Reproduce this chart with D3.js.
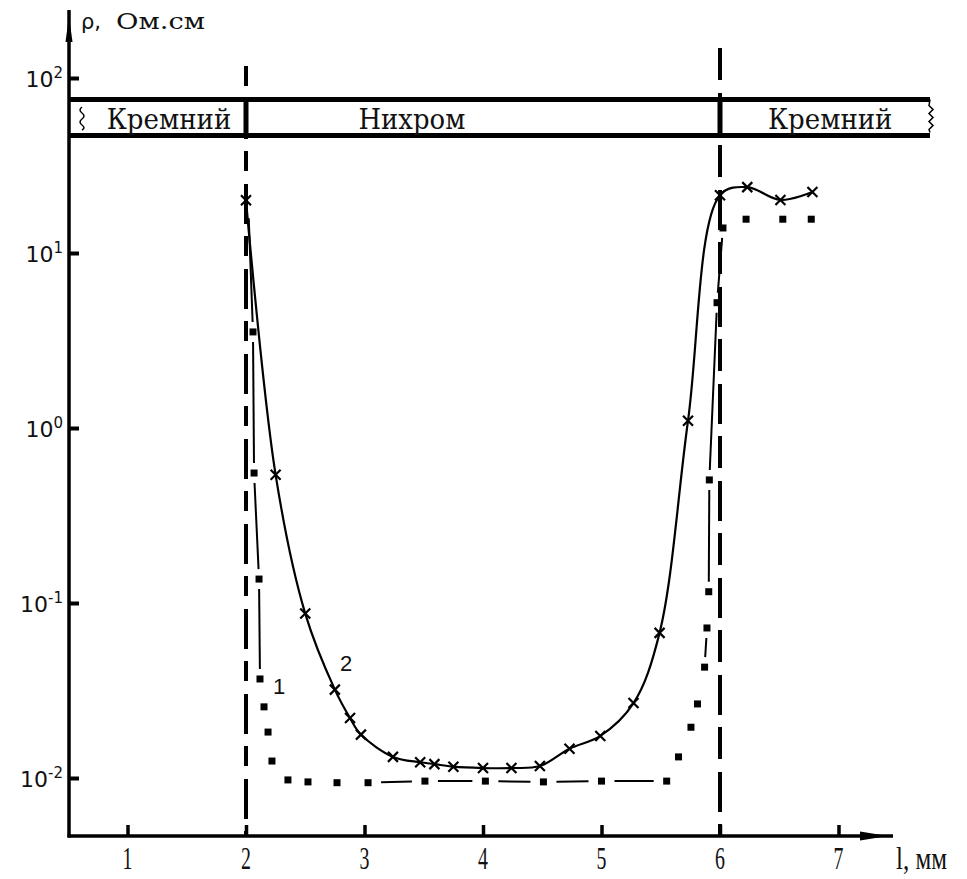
<!DOCTYPE html>
<head>
  <meta http-equiv="Content-Type" content="text/html; charset=utf-8">
  <style>
    body { margin: 0; background: #fff; }
    text { fill: #111; }
  </style>
</head>
<body></body>
<script src="https://cdn.jsdelivr.net/npm/d3@7"></script>
<script>

var width = 967,
    height = 879;

// Inputs
var xTicks = [1, 2, 3, 4, 5, 6, 7];
var yTicks = [0.01, 0.1, 1, 10, 100];
var yTickExp = ["-2", "-1", "0", "1", "2"];
var bandNames = ["Кремний", "Нихром", "Кремний"];
var bandCenters = [1.35, 3.4, 6.93];
var boundaries = [2, 6];

// curve 1 (squares, dash-dot)
var l1   = [2.02, 2.059, 2.068, 2.110, 2.118, 2.152, 2.186, 2.219, 2.354, 2.523, 2.768, 3.03,
            3.51, 4.02, 4.51, 5.0, 5.55, 5.65, 5.755, 5.81, 5.87, 5.89, 5.905, 5.91, 5.975, 6.025,
            6.22, 6.53, 6.77];
var rho1 = [18, 3.54, 0.553, 0.137, 0.0368, 0.0255, 0.0183, 0.0125, 0.00975, 0.0095, 0.0094, 0.0094,
            0.0096, 0.0096, 0.0095, 0.0096, 0.0096, 0.0132, 0.0195, 0.0265, 0.043, 0.072, 0.116, 0.505, 5.2, 13.9,
            15.6, 15.6, 15.6];

// curve 2 (crosses, solid)
var l2   = [2.0, 2.25, 2.5, 2.75, 2.878, 2.97, 3.24, 3.47, 3.59, 3.75, 4.0, 4.24, 4.48, 4.73, 4.99,
            5.27, 5.49, 5.73, 6.0, 6.23, 6.51, 6.78];
var rho2 = [20, 0.54, 0.087, 0.032, 0.022, 0.0177, 0.0132, 0.0123, 0.0120, 0.0116, 0.0114, 0.0114,
            0.0117, 0.0147, 0.0174, 0.0268, 0.0675, 1.10, 21.4, 23.8, 20.1, 22.3];

var xs = d3.scaleLinear()
    .domain([2, 6])
    .range([246, 720]);
var ys = d3.scaleLog()
    .domain([0.01, 100])
    .range([778, 78]);

var axisX = 69, axisY = 836;

var svg = d3.select("body").append("svg")
    .attr("width", width)
    .attr("height", height)

// axes lines + arrows
svg.append("line")
    .attr("x1", axisX).attr("y1", axisY + 1.5)
    .attr("x2", axisX).attr("y2", 10)
    .attr("stroke", "#000").attr("stroke-width", 3.5);
svg.append("path")
    .attr("d", "M" + axisX + ",16 L" + (axisX + 3.5) + ",42 L" + (axisX - 3.5) + ",42 Z")
    .attr("fill", "#000");
svg.append("line")
    .attr("x1", axisX - 1.5).attr("y1", axisY)
    .attr("x2", 893).attr("y2", axisY)
    .attr("stroke", "#000").attr("stroke-width", 3.5);
svg.append("path")
    .attr("d", "M888," + axisY + " L860," + (axisY - 4.5) + " L860," + (axisY + 4.5) + " Z")
    .attr("fill", "#000");

// x ticks (inside)
var xAxis = svg.append("g")
    .attr("transform", "translate(0," + axisY + ")")
    .call(d3.axisBottom(xs).tickValues(xTicks).tickSize(-11).tickFormat(""));
xAxis.select(".domain").remove();
xAxis.selectAll(".tick line").attr("stroke", "#000").attr("stroke-width", 3.5);

svg.selectAll(".xlab")
    .data(xTicks)
    .enter()
    .append("text")
    .attr("class", "xlab")
    .attr("transform", function(d){ return "translate(" + xs(d) + ",869) scale(0.62,1)"; })
    .attr("text-anchor", "middle")
    .attr("font-family", "Liberation Serif")
    .attr("font-size", 32)
    .text(function(d){ return d; });

svg.append("text")
    .attr("transform", "translate(896,869) scale(0.78,1)")
    .attr("font-family", "Liberation Serif")
    .attr("font-size", 32)
    .text("l, мм");

// y ticks (inside)
var yAxis = svg.append("g")
    .attr("transform", "translate(" + axisX + ",0)")
    .call(d3.axisRight(ys).tickValues(yTicks).tickSize(10).tickFormat(""));
yAxis.select(".domain").remove();
yAxis.selectAll(".tick line").attr("stroke", "#000").attr("stroke-width", 4);

var ylab = svg.selectAll(".ylab")
    .data(yTicks)
    .enter()
    .append("text")
    .attr("class", "ylab")
    .attr("x", 63)
    .attr("y", function(d){ return ys(d) + 9; })
    .attr("text-anchor", "end")
    .attr("font-family", "DejaVu Sans")
    .attr("font-size", 22)
    .attr("fill", "#222");
ylab.append("tspan").text("10");
ylab.append("tspan")
    .attr("dy", -9)
    .attr("font-size", 15)
    .text(function(d, i){ return yTickExp[i]; });

svg.append("text")
    .attr("x", 81).attr("y", 29)
    .attr("font-family", "DejaVu Sans")
    .attr("font-size", 21)
    .text("ρ,");
svg.append("text")
    .attr("x", 116).attr("y", 29)
    .attr("font-family", "DejaVu Serif")
    .attr("font-size", 23)
    .attr("textLength", 89)
    .attr("lengthAdjust", "spacingAndGlyphs")
    .text("Ом.см");

// material band
var bandTop = 99.5, bandBot = 135.5, bandEnd = 930;
svg.append("line")
    .attr("x1", axisX).attr("x2", bandEnd).attr("y1", bandTop).attr("y2", bandTop)
    .attr("stroke", "#000").attr("stroke-width", 5);
svg.append("line")
    .attr("x1", axisX).attr("x2", bandEnd).attr("y1", bandBot).attr("y2", bandBot)
    .attr("stroke", "#000").attr("stroke-width", 5);
svg.append("path")
    .attr("d", "M" + bandEnd + "," + bandTop + " l-1,6 l4,4 l-4,4 l4,4 l-4,4 l4,4 l-4,4 l1,3")
    .attr("fill", "none").attr("stroke", "#000").attr("stroke-width", 1.5);
svg.append("path")
    .attr("d", "M82,107 q-4,3 0,6 q4,3 0,6 q-4,3 0,6 q4,3 0,5")
    .attr("fill", "none").attr("stroke", "#000").attr("stroke-width", 1.5);

svg.selectAll(".divider")
    .data(boundaries)
    .enter()
    .append("line")
    .attr("x1", function(d){ return xs(d); })
    .attr("x2", function(d){ return xs(d); })
    .attr("y1", bandTop).attr("y2", bandBot)
    .attr("stroke", "#000").attr("stroke-width", 5);

svg.selectAll(".bandtext")
    .data(bandNames)
    .enter()
    .append("text")
    .attr("x", function(d, i){ return xs(bandCenters[i]); })
    .attr("y", 129)
    .attr("text-anchor", "middle")
    .attr("font-family", "DejaVu Serif")
    .attr("font-size", 28)
    .attr("textLength", function(d){ return d.length * 17.8; })
    .attr("lengthAdjust", "spacingAndGlyphs")
    .text(function(d){ return d; });

// dashed boundary lines
svg.selectAll(".bound")
    .data(boundaries)
    .enter()
    .append("line")
    .attr("x1", function(d){ return xs(d); })
    .attr("x2", function(d){ return xs(d); })
    .attr("y1", function(d, i){ return i == 0 ? 66 : 48; })
    .attr("y2", axisY)
    .attr("stroke", "#000")
    .attr("stroke-width", 4)
    .attr("stroke-dasharray", function(d, i){ return i == 0 ? "20,13,40,12" : "32,13,40,12"; });

// curve 2
var pts2 = l2.map(function(d, i){ return [xs(d), ys(rho2[i])]; });
svg.append("path")
    .attr("d", d3.line().curve(d3.curveCatmullRom.alpha(0.5))(pts2))
    .attr("fill", "none")
    .attr("stroke", "#000")
    .attr("stroke-width", 2.2);
svg.selectAll(".cross")
    .data(pts2)
    .enter()
    .append("path")
    .attr("d", function(d){ return "M" + (d[0]-5) + "," + (d[1]-5) + " L" + (d[0]+5) + "," + (d[1]+5) +
                                   " M" + (d[0]+5) + "," + (d[1]-5) + " L" + (d[0]-5) + "," + (d[1]+5); })
    .attr("stroke", "#000")
    .attr("stroke-width", 2.2);

// curve 1: shortened dashes between squares
var pts1 = l1.map(function(d, i){ return [xs(d), ys(rho1[i])]; });
var segs = [];
for (var i = 0; i < pts1.length - 1; i++) {
  var a = pts1[i], b = pts1[i+1];
  var dx = b[0]-a[0], dy = b[1]-a[1], len = Math.sqrt(dx*dx+dy*dy);
  if (len > 38) {
    var cut = Math.abs(dx) > Math.abs(dy) ? 13 : 10;
    segs.push([a[0]+dx*cut/len, a[1]+dy*cut/len, b[0]-dx*cut/len, b[1]-dy*cut/len]);
  }
}
svg.selectAll(".seg1")
    .data(segs)
    .enter()
    .append("line")
    .attr("x1", function(d){ return d[0]; })
    .attr("y1", function(d){ return d[1]; })
    .attr("x2", function(d){ return d[2]; })
    .attr("y2", function(d){ return d[3]; })
    .attr("stroke", "#000")
    .attr("stroke-width", 2);
svg.selectAll(".sq")
    .data(pts1.slice(1))
    .enter()
    .append("rect")
    .attr("x", function(d){ return d[0]-3.5; })
    .attr("y", function(d){ return d[1]-3.5; })
    .attr("width", 7)
    .attr("height", 7)
    .attr("fill", "#000");

// curve labels
svg.append("text")
    .attr("x", 273).attr("y", 694)
    .attr("font-family", "Liberation Sans")
    .attr("font-size", 22)
    .text("1");
svg.append("text")
    .attr("x", 340).attr("y", 671)
    .attr("font-family", "Liberation Sans")
    .attr("font-size", 22)
    .text("2");

</script>
</html>
